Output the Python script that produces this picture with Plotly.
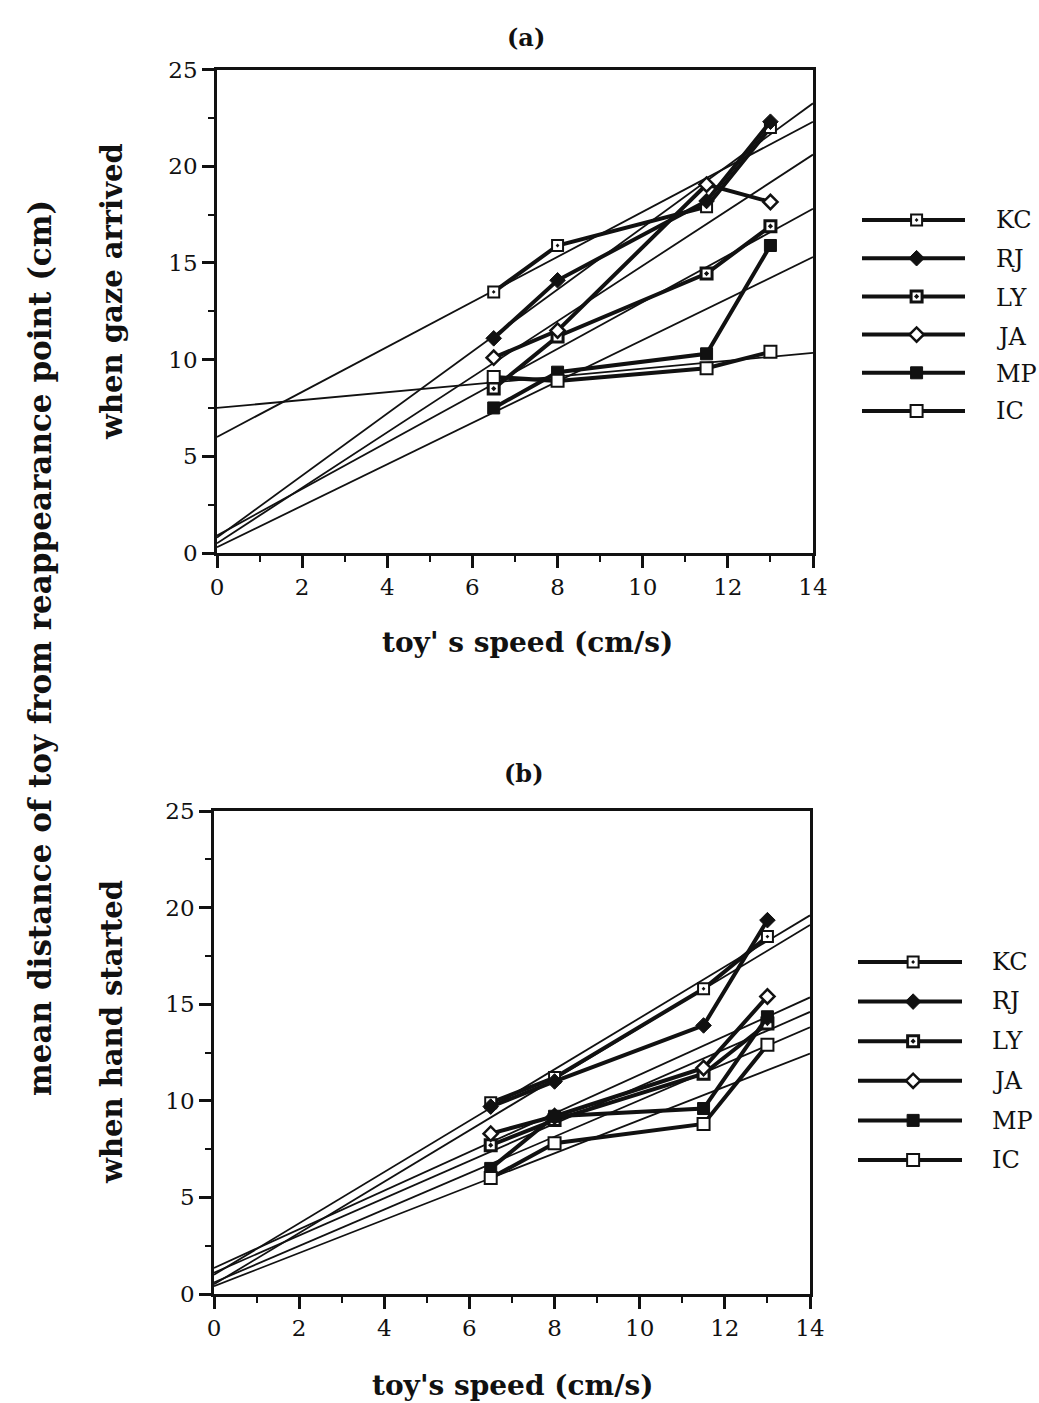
import plotly.graph_objects as go

# Toy speeds tested (cm/s)
speeds = [6.5, 8, 11.5, 13]
subjects = ["KC", "RJ", "LY", "JA", "MP", "IC"]

# (a) distance of toy from reappearance point when gaze arrived (cm)
gaze_kc = [13.5, 15.9, 17.9, 22.0]
gaze_rj = [11.1, 14.1, 18.2, 22.3]
gaze_ly = [8.5, 11.2, 14.45, 16.9]
gaze_ja = [10.1, 11.5, 19.05, 18.15]
gaze_mp = [7.5, 9.35, 10.3, 15.9]
gaze_ic = [9.1, 8.9, 9.55, 10.4]

# (a) fitted lines, value at speed 0 and at speed 14 (KC, RJ, LY, JA, MP, IC)
gaze_fit_start = [6.0, 0.8, 0.9, 0.5, 0.3, 7.5]
gaze_fit_end = [22.3, 23.25, 17.8, 20.6, 15.3, 10.35]

# (b) distance of toy from reappearance point when hand started (cm)
hand_kc = [9.9, 11.2, 15.8, 18.5]
hand_rj = [9.7, 11.0, 13.9, 19.35]
hand_ly = [7.7, 9.0, 11.4, 14.0]
hand_ja = [8.3, 9.2, 11.7, 15.4]
hand_mp = [6.5, 9.2, 9.6, 14.35]
hand_ic = [6.0, 7.8, 8.8, 12.9]

# (b) fitted lines, value at speed 0 and at speed 14
hand_fit_start = [1.0, 0.5, 1.1, 1.35, 0.6, 0.4]
hand_fit_end = [19.6, 19.1, 14.6, 15.35, 13.8, 12.45]
fit_speeds = [0, 14]

x_ticks = [0, 2, 4, 6, 8, 10, 12, 14]
y_ticks = [0, 5, 10, 15, 20, 25]

gaze = [gaze_kc, gaze_rj, gaze_ly, gaze_ja, gaze_mp, gaze_ic]
hand = [hand_kc, hand_rj, hand_ly, hand_ja, hand_mp, hand_ic]

FONT = "DejaVu Serif"
INK = "#111111"
W, H = 1039, 1403

# marker look per subject: symbol, fill, outline width, size
styles = {
    "KC": ("square-dot", "white", 2.0, 11),
    "RJ": ("diamond", INK, 1.0, 12),
    "LY": ("square-dot", "white", 3.0, 11),
    "JA": ("diamond", "white", 2.5, 11),
    "MP": ("square", INK, 1.0, 12),
    "IC": ("square", "white", 2.0, 12),
}


def px_x(p):
    return p / W


def px_y(p):
    return 1 - p / H


fig = go.Figure()

panels = [
    ("x", "y", gaze, gaze_fit_start, gaze_fit_end),
    ("x2", "y2", hand, hand_fit_start, hand_fit_end),
]

for xa, ya, series, fs, fe in panels:
    # fitted lines first, underneath the data
    for i, name in enumerate(subjects):
        fig.add_trace(go.Scatter(
            x=fit_speeds, y=[fs[i], fe[i]], mode="lines",
            line=dict(color=INK, width=1.8), xaxis=xa, yaxis=ya,
            showlegend=False, hoverinfo="skip", cliponaxis=True))
    for i, name in enumerate(subjects):
        sym, fill, lw, sz = styles[name]
        fig.add_trace(go.Scatter(
            x=speeds, y=series[i], mode="lines+markers", name=name,
            line=dict(color=INK, width=4),
            marker=dict(symbol=sym, color=fill, size=sz,
                        line=dict(color=INK, width=lw)),
            xaxis=xa, yaxis=ya, showlegend=False, cliponaxis=False))

# hand-drawn legend keys, one row per subject
legend_panels = [("x3", "y3"), ("x4", "y4")]
for xa, ya in legend_panels:
    for i, name in enumerate(subjects):
        sym, fill, lw, sz = styles[name]
        fig.add_trace(go.Scatter(
            x=[0, 1], y=[i, i], mode="lines", line=dict(color=INK, width=4),
            xaxis=xa, yaxis=ya, showlegend=False, hoverinfo="skip"))
        fig.add_trace(go.Scatter(
            x=[0.53], y=[i], mode="markers",
            marker=dict(symbol=sym, color=fill, size=sz,
                        line=dict(color=INK, width=lw)),
            xaxis=xa, yaxis=ya, showlegend=False, hoverinfo="skip"))

tick_font = dict(family=FONT, size=23, color=INK)


def data_xaxis(domain):
    return dict(domain=domain, range=[0, 14], tickvals=x_ticks,
                ticktext=[str(v) for v in x_ticks], ticks="outside",
                ticklen=12, tickwidth=2.5, tickcolor=INK,
                minor=dict(dtick=1, ticks="outside", ticklen=6,
                           tickwidth=2, tickcolor=INK, showgrid=False),
                showline=True, linewidth=2.5, linecolor=INK, mirror=True,
                showgrid=False, zeroline=False, tickfont=tick_font,
                automargin=False, fixedrange=True)


def data_yaxis(domain, anchor):
    return dict(domain=domain, range=[0, 25], tickvals=y_ticks,
                ticktext=[str(v) for v in y_ticks], ticks="outside",
                ticklen=12, tickwidth=2.5, tickcolor=INK,
                minor=dict(dtick=2.5, ticks="outside", ticklen=6,
                           tickwidth=2, tickcolor=INK, showgrid=False),
                showline=True, linewidth=2.5, linecolor=INK, mirror=True,
                showgrid=False, zeroline=False, tickfont=tick_font,
                anchor=anchor, automargin=False, fixedrange=True)


def key_axis(domain, rng, anchor):
    return dict(domain=domain, range=rng, visible=False, anchor=anchor,
                automargin=False, fixedrange=True)


a_rows = [220, 259, 298, 337, 374, 411]
b_rows = [962, 1001, 1041, 1081, 1121, 1160]
a_step = (a_rows[-1] - a_rows[0]) / 5
b_step = (b_rows[-1] - b_rows[0]) / 5

fig.update_layout(
    template="none",
    width=W, height=H, margin=dict(l=0, r=0, t=0, b=0, pad=0),
    paper_bgcolor="white", plot_bgcolor="white", showlegend=False,
    xaxis=data_xaxis([px_x(217), px_x(813)]),
    yaxis=data_yaxis([px_y(553), px_y(69.5)], "x"),
    xaxis2=data_xaxis([px_x(214), px_x(810)]),
    yaxis2=data_yaxis([px_y(1294), px_y(811)], "x2"),
    xaxis3=key_axis([px_x(862), px_x(965)], [0, 1], "y3"),
    yaxis3=key_axis([px_y(a_rows[-1] + a_step / 2), px_y(a_rows[0] - a_step / 2)],
                    [5.5, -0.5], "x3"),
    xaxis4=key_axis([px_x(858), px_x(962)], [0, 1], "y4"),
    yaxis4=key_axis([px_y(b_rows[-1] + b_step / 2), px_y(b_rows[0] - b_step / 2)],
                    [5.5, -0.5], "x4"),
)
fig.update_layout(xaxis2_anchor="y2", xaxis_anchor="y")

ann = []


def text(x, y, s, size, bold=False, angle=0, xanchor="center"):
    ann.append(dict(
        x=px_x(x), y=px_y(y), xref="paper", yref="paper", text=f"<b>{s}</b>" if bold else s,
        showarrow=False, textangle=angle, xanchor=xanchor, yanchor="middle",
        font=dict(family=FONT, size=size, color=INK)))


text(526, 37, "(a)", 24, bold=True)
text(524, 773, "(b)", 24, bold=True)
text(527, 642, "toy' s speed (cm/s)", 28, bold=True)
text(512, 1385, "toy's speed (cm/s)", 28, bold=True)
text(112, 292, "when gaze arrived", 29, bold=True, angle=-90)
text(112, 1032, "when hand started", 29, bold=True, angle=-90)
text(40, 648, "mean distance of toy from reappearance point (cm)", 31, bold=True, angle=-90)

for i, name in enumerate(subjects):
    text(994, a_rows[i], name, 24, xanchor="left")
    text(990, b_rows[i], name, 24, xanchor="left")

fig.update_layout(annotations=ann)

fig.write_html("out.html")
